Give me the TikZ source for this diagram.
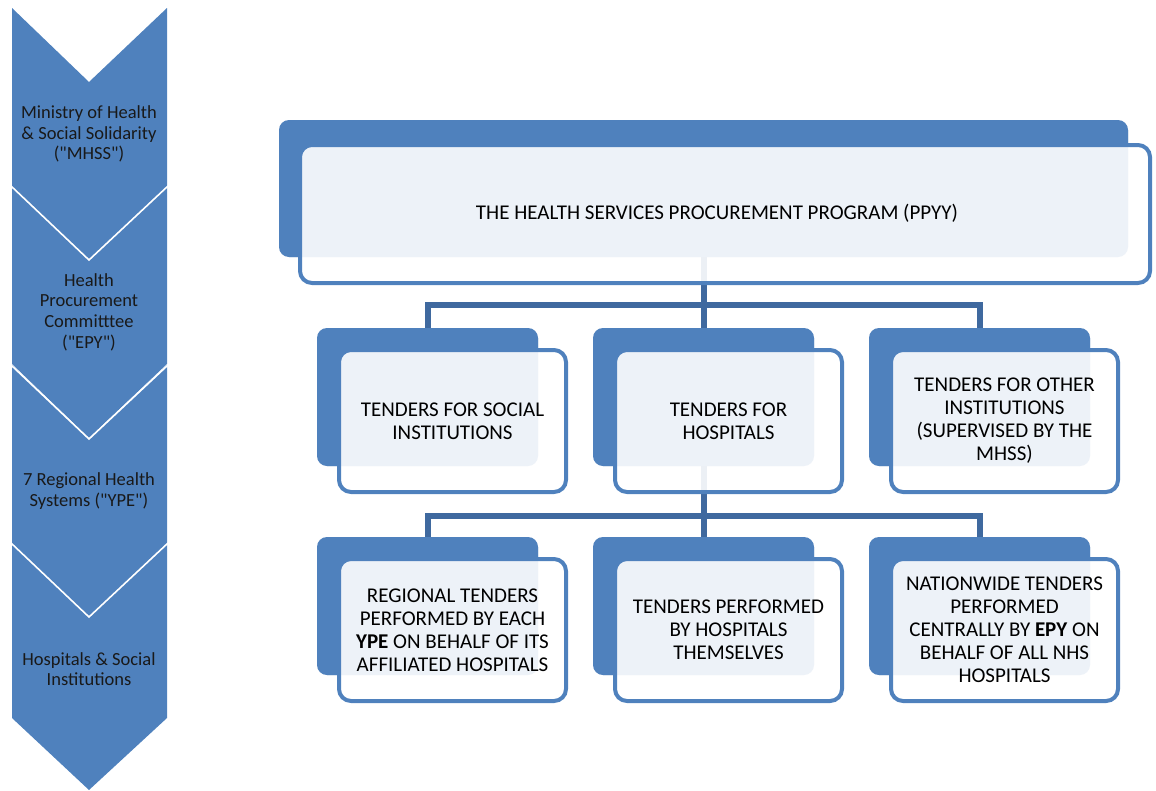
\documentclass[tikz,border=0pt]{standalone}
\usepackage{fontspec}
\setmainfont{Carlito}[Ligatures=TeXOff]
\newcommand{\dq}{\symbol{34}}
\definecolor{acc}{HTML}{4F81BD}
\definecolor{connc}{HTML}{3F699F}
\tikzset{
  backbox/.style={fill=acc, draw=white, line width=0.8pt, rounded corners=10pt, inner sep=0pt},
  frontbox/.style={fill=white, fill opacity=0.9, text opacity=1, draw=acc, line width=4pt,
     rounded corners=12pt, inner sep=0pt, align=center, text=black,
     font=\fontsize{21}{23}\selectfont},
  boxtxt/.style={align=center, text=black, inner sep=0pt, font=\fontsize{21}{23}\selectfont},
  connline/.style={draw=connc, line width=6pt},
  chevfill/.style={fill=acc},
  chevsep/.style={draw=white, line width=1.6pt},
  chevtxt/.style={font=\fontsize{18.5}{20.7}\selectfont, align=center, text=black!90}
}
\begin{document}
\begin{tikzpicture}[x=1pt,y=-1pt]
\useasboundingbox (0,0) rectangle (1156,790);
% left chevrons
\foreach \t/\b/\p in {8/186/260, 186/364/438, 365/543/617, 543/718/790}{
  \fill[chevfill] (12,\t) -- (89,\t+74) -- (167,\t) -- (167,\b) -- (89,\p) -- (12,\b) -- cycle;
}
\foreach \t in {186,365,543}{
  \draw[chevsep] (11,\t) -- (89,\t+74) -- (168,\t);
}
\node[chevtxt] (c1) at (89,134) {Ministry of Health\\\& Social Solidarity\\(\dq MHSS\dq)};
\node[chevtxt] (c2) at (89,312) {Health\\Procurement\\Committtee\\(\dq EPY\dq)};
\node[chevtxt] (c3) at (89,491) {7 Regional Health\\Systems (\dq YPE\dq)};
\node[chevtxt] (c4) at (89,669) {Hospitals \& Social\\Institutions};

% back boxes
\node[backbox, minimum width=849pt, minimum height=137pt] (tb) at (703.5,188.5) {};
\node[backbox, minimum width=221pt, minimum height=138pt] (m1) at (427.5,397) {};
\node[backbox, minimum width=221pt, minimum height=138pt] (m2) at (703.5,397) {};
\node[backbox, minimum width=221pt, minimum height=138pt] (m3) at (979.5,397) {};
\node[backbox, minimum width=221pt, minimum height=138pt] (l1) at (427.5,606) {};
\node[backbox, minimum width=221pt, minimum height=138pt] (l2) at (703.5,606) {};
\node[backbox, minimum width=221pt, minimum height=138pt] (l3) at (979.5,606) {};

% connectors
\coordinate (j1) at (703.5,305);
\coordinate (j2) at (703.5,516);
\draw[connline] (tb.south) -- (j1);
\draw[connline] (j1) -| (m1.north);
\draw[connline] (j1) -- (m2.north);
\draw[connline] (j1) -| (m3.north);
\draw[connline] (m2.south) -- (j2);
\draw[connline] (j2) -| (l1.north);
\draw[connline] (j2) -- (l2.north);
\draw[connline] (j2) -| (l3.north);

% redraw back boxes over connector ends
\foreach \x/\y/\w/\h in {703.5/188.5/849/137, 427.5/397/221/138, 703.5/397/221/138, 979.5/397/221/138, 427.5/606/221/138, 703.5/606/221/138, 979.5/606/221/138}{
  \fill[acc, rounded corners=10pt] (\x-\w/2,\y-\h/2) rectangle (\x+\w/2,\y+\h/2);
}

% front boxes
\node[frontbox, minimum width=850pt, minimum height=138pt] (tf) at (725,214) {};
\node[boxtxt] (tt) at (717,213) {THE HEALTH SERVICES PROCUREMENT PROGRAM (PPYY)};
\node[frontbox, minimum width=227pt, minimum height=142pt] (mf1) at (452.5,421)
  {TENDERS FOR SOCIAL\\INSTITUTIONS};
\node[frontbox, minimum width=227pt, minimum height=142pt] (mf2) at (728.5,421)
  {TENDERS FOR\\HOSPITALS};
\node[frontbox, minimum width=227pt, minimum height=142pt] (mf3) at (1004.5,421)
  {TENDERS FOR OTHER\\INSTITUTIONS\\(SUPERVISED BY THE\\MHSS)};
\node[frontbox, minimum width=227pt, minimum height=142pt] (lf1) at (452.5,630)
  {REGIONAL TENDERS\\PERFORMED BY EACH\\\textbf{YPE} ON BEHALF OF ITS\\AFFILIATED HOSPITALS};
\node[frontbox, minimum width=227pt, minimum height=142pt] (lf2) at (728.5,630)
  {TENDERS PERFORMED\\BY HOSPITALS\\THEMSELVES};
\node[frontbox, minimum width=227pt, minimum height=142pt] (lf3) at (1004.5,630)
  {NATIONWIDE TENDERS\\PERFORMED\\CENTRALLY BY \textbf{EPY} ON\\BEHALF OF ALL NHS\\HOSPITALS};
\end{tikzpicture}
\end{document}
